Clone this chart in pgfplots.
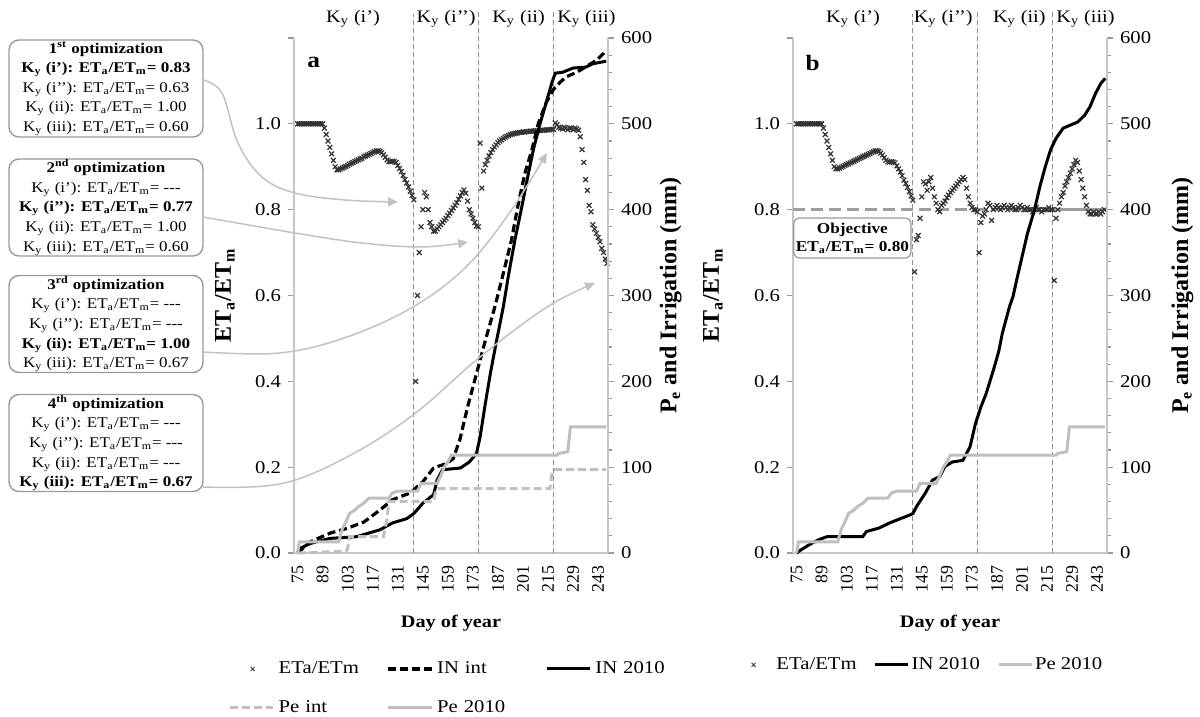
\documentclass[border=0pt]{standalone}
\usepackage{pgfplots}
\pgfplotsset{compat=1.18}
\usepackage{pgfplotstable}
\usetikzlibrary{arrows.meta}
\usepackage{fontspec}
\setmainfont{Liberation Serif}[FakeStretch=1.15]
\newfontfamily\rotfont{Liberation Serif}

\definecolor{axgray}{gray}{0.78}
\definecolor{tkgray}{gray}{0.6}
\definecolor{pegray}{gray}{0.75}
\definecolor{objgray}{gray}{0.62}
\definecolor{xgray}{gray}{0.2}
\definecolor{arrgray}{gray}{0.76}
\definecolor{boxgray}{gray}{0.6}
\definecolor{vgray}{gray}{0.55}

\newcommand{\ky}{K\textsubscript{y}}
\newcommand{\etr}{ET\textsubscript{a}/ET\textsubscript{m}}
\newcommand{\nd}{-{}-{}-}

\pgfplotstableread{
day eta
75 1.000
76 1.000
77 1.000
78 1.000
79 1.000
80 1.000
81 1.000
82 1.000
83 1.000
84 1.000
85 1.000
86 1.000
87 1.000
88 1.000
89 1.000
90 0.990
91 0.975
92 0.960
93 0.945
94 0.930
95 0.915
96 0.900
97 0.893
98 0.893
99 0.895
100 0.897
101 0.899
102 0.901
103 0.903
104 0.906
105 0.908
106 0.910
107 0.912
108 0.914
109 0.916
110 0.918
111 0.920
112 0.923
113 0.925
114 0.927
115 0.929
116 0.931
117 0.933
118 0.935
119 0.937
120 0.937
121 0.936
122 0.933
123 0.928
124 0.922
125 0.916
126 0.912
127 0.912
128 0.913
129 0.912
130 0.910
131 0.903
132 0.896
133 0.889
134 0.880
135 0.870
136 0.862
137 0.853
138 0.843
139 0.833
140 0.823
141 0.400
142 0.600
143 0.700
144 0.760
145 0.800
146 0.840
147 0.830
148 0.800
149 0.770
150 0.760
151 0.750
152 0.750
153 0.755
154 0.760
155 0.765
156 0.770
157 0.775
158 0.780
159 0.786
160 0.792
161 0.798
162 0.804
163 0.810
164 0.816
165 0.824
166 0.832
167 0.840
168 0.846
169 0.838
170 0.820
171 0.800
172 0.790
173 0.780
174 0.770
175 0.762
176 0.760
177 0.955
178 0.850
179 0.890
180 0.905
181 0.915
182 0.925
183 0.933
184 0.940
185 0.946
186 0.951
187 0.956
188 0.960
189 0.963
190 0.966
191 0.969
192 0.971
193 0.973
194 0.975
195 0.976
196 0.977
197 0.978
198 0.979
199 0.980
200 0.980
201 0.981
202 0.981
203 0.982
204 0.982
205 0.983
206 0.983
207 0.983
208 0.984
209 0.984
210 0.984
211 0.985
212 0.985
213 0.985
214 0.986
215 0.986
216 0.986
217 0.987
218 0.987
219 1.002
220 0.998
221 0.992
222 0.990
223 0.988
224 0.992
225 0.990
226 0.986
227 0.990
228 0.990
229 0.986
230 0.990
231 0.988
232 0.985
233 0.970
234 0.940
235 0.910
236 0.870
237 0.845
238 0.810
239 0.795
240 0.765
241 0.755
242 0.745
243 0.735
244 0.725
245 0.710
246 0.700
247 0.685
248 0.675
}\etaA

\pgfplotstableread{
day eta
75 1.000
76 1.000
77 1.000
78 1.000
79 1.000
80 1.000
81 1.000
82 1.000
83 1.000
84 1.000
85 1.000
86 1.000
87 1.000
88 1.000
89 1.000
90 0.990
91 0.975
92 0.960
93 0.945
94 0.930
95 0.915
96 0.900
97 0.895
98 0.895
99 0.897
100 0.899
101 0.901
102 0.903
103 0.905
104 0.907
105 0.909
106 0.911
107 0.913
108 0.915
109 0.917
110 0.919
111 0.921
112 0.923
113 0.925
114 0.927
115 0.929
116 0.931
117 0.933
118 0.935
119 0.937
120 0.937
121 0.936
122 0.932
123 0.927
124 0.921
125 0.915
126 0.911
127 0.911
128 0.912
129 0.911
130 0.909
131 0.902
132 0.895
133 0.888
134 0.879
135 0.869
136 0.861
137 0.852
138 0.842
139 0.832
140 0.822
141 0.655
142 0.730
143 0.740
144 0.780
145 0.830
146 0.865
147 0.860
148 0.845
149 0.865
150 0.875
151 0.850
152 0.830
153 0.815
154 0.800
155 0.795
156 0.810
157 0.815
158 0.820
159 0.828
160 0.834
161 0.840
162 0.845
163 0.850
164 0.855
165 0.860
166 0.865
167 0.870
168 0.875
169 0.870
170 0.850
171 0.830
172 0.815
173 0.805
174 0.800
175 0.800
176 0.795
177 0.700
178 0.770
179 0.785
180 0.790
181 0.800
182 0.815
183 0.810
184 0.775
185 0.800
186 0.805
187 0.810
188 0.805
189 0.800
190 0.805
191 0.810
192 0.805
193 0.800
194 0.805
195 0.810
196 0.805
197 0.800
198 0.800
199 0.805
200 0.810
201 0.805
202 0.800
203 0.800
204 0.805
205 0.800
206 0.800
207 0.795
208 0.800
209 0.805
210 0.800
211 0.800
212 0.795
213 0.800
214 0.800
215 0.800
216 0.805
217 0.800
218 0.800
219 0.635
220 0.780
221 0.800
222 0.815
223 0.830
224 0.840
225 0.855
226 0.865
227 0.875
228 0.885
229 0.895
230 0.905
231 0.915
232 0.910
233 0.890
234 0.870
235 0.850
236 0.830
237 0.810
238 0.795
239 0.790
240 0.790
241 0.795
242 0.790
243 0.790
244 0.795
245 0.790
246 0.795
247 0.800
}\etaB

\tikzset{
  vline/.style={vgray, line width=0.4pt, dash pattern=on 2.5pt off 1.5pt},
  kyl/.style={font=\fontsize{8.8}{10}\selectfont}
}

\pgfplotsset{
  base/.style={scale only axis, width=157pt, height=257.5pt, xmin=73, xmax=248.5,
     anchor=south west, clip=false,
     /pgf/number format/assume math mode=true,
     axis line style={draw=axgray, line width=0.9pt},
     tick style={draw=tkgray, line width=0.6pt},
     tick align=outside, major tick length=3pt, minor tick length=2pt,
     yticklabel style={font=\fontsize{9}{10}\selectfont}},
  leftax/.style={base, ymin=0, ymax=1.2, axis y line*=left, axis x line*=bottom,
     xtick={75,89,...,243},
     xticklabel style={font=\rotfont\fontsize{8.9}{10}\selectfont, rotate=90, anchor=east},
     x tick style={draw=none},
     ytick={0,0.2,0.4,0.6,0.8,1.0,1.2}, yticklabels={0.0,0.2,0.4,0.6,0.8,1.0,{}},
     xlabel={Day of year},
     every axis x label/.style={at={(axis description cs:0.5,-0.136)}, anchor=center,
        font=\bfseries\fontsize{8.8}{10}\selectfont},
     ylabel={ET\textsubscript{a}/ET\textsubscript{m}}},
  rightax/.style={base, ymin=0, ymax=600, axis y line*=right, axis x line=none,
     ytick={0,100,...,600}, minor y tick num=4, xtick=\empty,
     ylabel={P\textsubscript{e} and Irrigation (mm)}},
  etastyle/.style={only marks, mark=x, mark size=1.7pt, xgray, mark options={line width=0.6pt}},
  in10/.style={black, line width=1.5pt},
  inint/.style={black, line width=1.6pt, dash pattern=on 4pt off 2pt},
  pe10/.style={pegray, line width=1.5pt},
  peint/.style={pegray, line width=1.5pt, dash pattern=on 4pt off 2pt}
}

\begin{document}
\begin{tikzpicture}
\path[use as bounding box] (0,0) rectangle (600pt,358.5pt);

% ---------------- Panel a ----------------
\begin{axis}[leftax, at={(147pt,82pt)},
  every axis y label/.style={at={(axis description cs:-0.22,0.5)}, rotate=90, anchor=center,
     font=\rotfont\bfseries\fontsize{12}{13}\selectfont}]
\addplot[etastyle] table[x=day,y=eta] {\etaA};
\draw[vline] (axis cs:139.5,0) -- (axis cs:139.5,1.255);
\draw[vline] (axis cs:175.8,0) -- (axis cs:175.8,1.26);
\draw[vline] (axis cs:218,0) -- (axis cs:218,1.265);
\node[kyl] at (axis cs:106,1.245) {\ky{} (i’)};
\node[kyl] at (axis cs:158,1.245) {\ky{} (i’’)};
\node[kyl] at (axis cs:198.5,1.245) {\ky{} (ii)};
\node[kyl] at (axis cs:236.5,1.245) {\ky{} (iii)};
\node[font=\bfseries\fontsize{11}{12}\selectfont] at (axis cs:84,1.142) {a};
\end{axis}
\begin{axis}[rightax, at={(147pt,82pt)},
  every axis y label/.style={at={(axis description cs:1.2,0.5)}, rotate=90, anchor=center,
     font=\rotfont\bfseries\fontsize{12}{13}\selectfont},
  legend columns=3,
  legend style={draw=none, fill=none, at={(axis description cs:-0.21,-0.202)}, anchor=north west,
     font=\fontsize{9}{10}\selectfont, inner sep=0pt, row sep=8pt,
     nodes={text width=50pt, inner sep=2pt},
     /tikz/every even column/.append style={column sep=2pt}},
  legend image code/.code={\path (0cm,0cm) (0.76cm,0cm); \draw[mark repeat=2,mark phase=2,#1] plot coordinates {(0cm,0cm) (0.4cm,0cm) (0.76cm,0cm)};}]
\addlegendimage{etastyle, mark size=1.4pt, mark options={line width=0.4pt}}
\addlegendentry{ETa/ETm}
\addplot[inint] coordinates {(75,0) (82,13) (93,23) (103,29) (112,36) (121,50) (128,62) (138,70) (145,83) (151,99) (155,102) (158,104) (162,110) (165.7,132) (170,170) (175,209) (180,248) (185.3,287) (190,326) (194.6,365) (198,403) (202,442) (206,470) (209.5,500) (214,525) (218,540) (222,549) (225.4,555) (231,560) (236.5,567) (242,574) (246,582) (247.5,586)};
\addlegendentry{IN int}
\addplot[in10] coordinates {(75,0) (76,5) (82,11) (93,17) (108,19) (121,27) (128,35) (136,40) (140,46) (145,58) (151,68) (153,85) (156,97) (166,99) (171,106) (175,116) (177,135) (180,175) (183,212) (186,245) (190,287) (193,325) (196.5,365) (200,400) (204,442) (207,472) (210.5,500) (214,525) (217,547) (219,559) (223,560) (229,565) (236,566) (240,570) (247.5,573)};
\addlegendentry{IN 2010}
\addplot[peint] coordinates {(75,0) (102,2) (103,5) (104,19) (123,19) (125,40) (126,60) (151,60) (152,70) (153,75) (216,75) (217,90) (218,97) (247.5,97)};
\addlegendentry{Pe int}
\addplot[pe10] coordinates {(75,0) (76,13) (98,13) (100,28) (102,36) (104,46) (107,50) (109,54) (112,58) (115,64) (126,64) (128,70) (131,72) (142,72) (144,81) (153,81) (155,90) (157,100) (159,106) (161,114) (220,114) (221,116) (226,118) (227.5,147) (247.5,147)};
\addlegendentry{Pe 2010}
\end{axis}

% ---------------- Panel b ----------------
\begin{axis}[leftax, at={(396.5pt,82pt)},
  every axis y label/.style={at={(axis description cs:-0.255,0.5)}, rotate=90, anchor=center,
     font=\rotfont\bfseries\fontsize{12}{13}\selectfont}]
\addplot[objgray, line width=1.6pt, dash pattern=on 6pt off 3pt] coordinates {(73,0.8) (218,0.8)};
\addplot[objgray, line width=1.6pt] coordinates {(218,0.8) (248.5,0.8)};
\addplot[etastyle] table[x=day,y=eta] {\etaB};
\draw[vline] (axis cs:139.5,0) -- (axis cs:139.5,1.255);
\draw[vline] (axis cs:175.8,0) -- (axis cs:175.8,1.26);
\draw[vline] (axis cs:218,0) -- (axis cs:218,1.265);
\node[kyl] at (axis cs:106.5,1.245) {\ky{} (i’)};
\node[kyl] at (axis cs:157,1.245) {\ky{} (i’’)};
\node[kyl] at (axis cs:199.5,1.245) {\ky{} (ii)};
\node[kyl] at (axis cs:236.5,1.245) {\ky{} (iii)};
\node[font=\bfseries\fontsize{11}{12}\selectfont] at (axis cs:84,1.142) {b};
\node[draw=boxgray, line width=0.6pt, rounded corners=3pt, fill=white, align=center,
   font=\bfseries\fontsize{7.5}{9}\selectfont, minimum width=57.5pt, minimum height=20pt, inner sep=1pt]
   at (axis cs:106.2,0.734) {Objective\\\etr= 0.80};
\end{axis}
\begin{axis}[rightax, at={(396.5pt,82pt)},
  every axis y label/.style={at={(axis description cs:1.24,0.5)}, rotate=90, anchor=center,
     font=\rotfont\bfseries\fontsize{12}{13}\selectfont},
  legend columns=3,
  legend style={draw=none, fill=none, at={(axis description cs:-0.168,-0.198)}, anchor=north west,
     font=\fontsize{9}{10}\selectfont, inner sep=0pt,
     nodes={inner sep=1pt},
     /tikz/every even column/.append style={column sep=7.5pt}},
  legend image code/.code={\path (0cm,0cm) (0.58cm,0cm); \draw[mark repeat=2,mark phase=2,#1] plot coordinates {(0cm,0cm) (0.22cm,0cm) (0.58cm,0cm)};}]
\addlegendimage{etastyle, mark size=1.4pt, mark options={line width=0.4pt}}
\addlegendentry{ETa/ETm}
\addplot[in10] coordinates {(75,0) (77,3) (80,7) (84,12) (88,16) (92,19) (112,19) (114,25) (121,29) (127,35) (133,40) (138,44) (140,46) (142,54) (147,70) (151,85) (155,89) (158,101) (162,106) (168,108) (172,124) (175,151) (178,170) (181,186) (185,213) (188,235) (190,256) (194,287) (196,299) (198,318) (201,345) (204,372) (208,400) (211,427) (214,450) (217,470) (220,483) (224,495) (232,502) (236,510) (239,520) (242,535) (245,547) (247.5,553)};
\addlegendentry{IN 2010}
\addplot[pe10] coordinates {(75,0) (76,13) (98,13) (100,28) (102,36) (104,46) (107,50) (109,54) (112,58) (115,64) (126,64) (128,70) (131,72) (142,72) (144,81) (153,81) (155,90) (157,100) (159,106) (161,114) (220,114) (221,116) (226,118) (227.5,147) (247.5,147)};
\addlegendentry{Pe 2010}
\end{axis}

% ---------------- Boxes and arrows ----------------
\begin{scope}[x=0.5pt,y=0.5pt]
\tikzset{optbox/.style={draw=boxgray, line width=0.7pt, rounded corners=5pt, fill=white,
   minimum width=97pt, minimum height=48.5pt, align=center, inner sep=0pt,
   font=\fontsize{7.4}{9.8}\selectfont}}
\node[optbox] at (106,628.5) {\textbf{1\textsuperscript{st} optimization}\\
  \textbf{\ky{} (i’): \etr= 0.83}\\
  \ky{} (i’’): \etr= 0.63\\
  \ky{} (ii): \etr= 1.00\\
  \ky{} (iii): \etr= 0.60};
\node[optbox] at (106,509.5) {\textbf{2\textsuperscript{nd} optimization}\\
  \ky{} (i’): \etr= \nd\\
  \textbf{\ky{} (i’’): \etr= 0.77}\\
  \ky{} (ii): \etr= 1.00\\
  \ky{} (iii): \etr= 0.60};
\node[optbox] at (106,393) {\textbf{3\textsuperscript{rd} optimization}\\
  \ky{} (i’): \etr= \nd\\
  \ky{} (i’’): \etr= \nd\\
  \textbf{\ky{} (ii): \etr= 1.00}\\
  \ky{} (iii): \etr= 0.67};
\node[optbox] at (106,274) {\textbf{4\textsuperscript{th} optimization}\\
  \ky{} (i’): \etr= \nd\\
  \ky{} (i’’): \etr= \nd\\
  \ky{} (ii): \etr= \nd\\
  \textbf{\ky{} (iii): \etr= 0.67}};
\tikzset{arr/.style={arrgray, line width=0.75pt, -{Triangle[length=5pt,width=4.5pt]}}}
\draw[arr] plot[smooth, tension=0.6] coordinates {(203,637) (222,624) (238,574) (262,540) (295,524) (345,517) (398,515)};
\draw[arr] plot[smooth, tension=0.6] coordinates {(203,500) (295,484) (362,474) (422,470) (468,475)};
\draw[arr] plot[smooth, tension=0.6] coordinates {(203,365) (280,364) (347,380) (413,410) (465,449) (508,502) (547,564)};
\draw[arr] plot[smooth, tension=0.6] coordinates {(203,230) (280,233) (347,260) (413,302) (480,360) (547,410) (595,434)};
\end{scope}
\end{tikzpicture}
\end{document}
